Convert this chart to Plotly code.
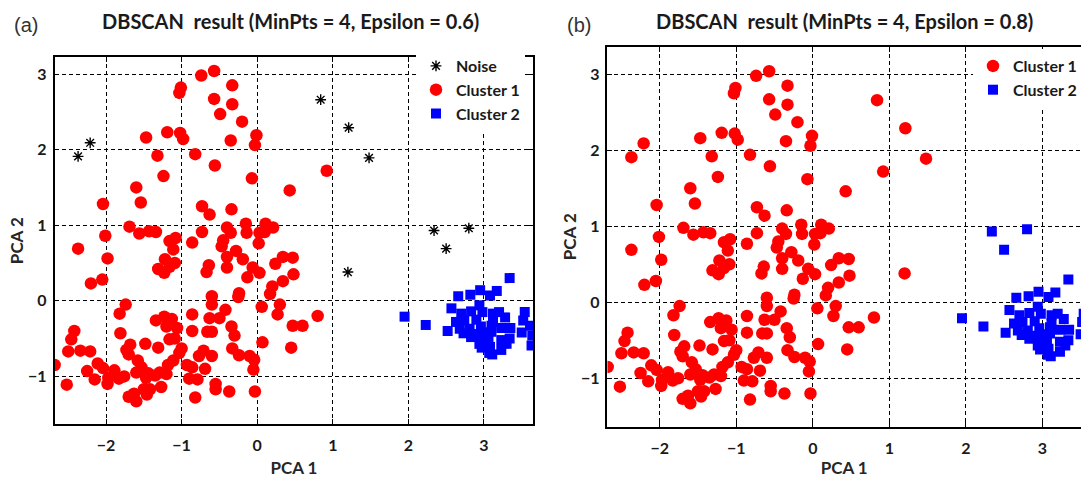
import plotly.graph_objects as go

# ---------------- data (PCA coordinates) ----------------
cluster1_x = [-0.74, -0.57, -1.01, -1.03, -1.47, -1.19, -1.02, -0.98, -1.32, -0.82,
              -1.24, -0.33, -0.57, -0.33, -0.49, -0.20, -0.01, -0.35, -0.03, -0.56,
              0.92, -0.07, 0.43, -1.60, -2.04, -1.54, -0.73, -1.69, -2.01, -1.56,
              -1.43, -1.34, -2.37, -1.16, -1.08, -1.11, -0.86, -0.73, -1.98, -1.22,
              -1.09, -1.16, -1.31, -1.23, -2.05, -2.20, -0.63, -0.34, -0.40, -0.15,
              0.11, 0.21, -0.35, -0.14, 0.03, 0.10, -0.45, -0.47, -0.28, 0.02,
              -0.40, -0.19, 0.34, 0.47, -0.64, -0.67, -0.40, -0.06, 0.03, 0.24,
              -0.13, 0.34, 0.48, 0.20, 0.17, -0.24, -0.25, -0.60, -0.60, -0.86,
              -0.42, 0.06, 0.30, 0.27, 0.80, -0.63, -0.50, 0.47, 0.60, -0.34,
              -0.30, -0.86, -0.66, -0.60, 0.07, 0.45, -0.33, -0.24, -0.71, -0.77,
              -0.60, -0.10, -0.04, -0.86, -0.69, -0.05, -0.90, -0.79, -0.55, -0.55,
              -0.37, -0.03, -0.82, -1.74, -1.82, -1.34, -1.23, -1.13, -1.20, -1.06,
              -2.42, -2.46, -1.81, -1.16, -1.09, -1.48, -1.68, -1.31, -2.50, -2.34,
              -2.21, -1.73, -1.70, -1.00, -1.03, -2.68, -2.11, -2.04, -1.58, -1.53,
              -1.11, -1.18, -0.93, -2.25, -1.89, -1.60, -1.44, -1.29, -1.20, -2.15,
              -1.97, -1.83, -1.76, -1.47, -1.35, -2.52, -1.98, -1.27, -1.50, -1.42,
              -1.63, -1.70, -1.46, -1.60]
cluster1_y = [2.98, 3.04, 2.82, 2.75, 2.16, 2.23, 2.22, 2.14, 1.92, 1.94,
              1.65, 2.85, 2.67, 2.60, 2.47, 2.37, 2.19, 2.12, 2.06, 1.79,
              1.72, 1.62, 1.46, 1.50, 1.28, 1.30, 1.25, 0.98, 0.86, 0.89,
              0.92, 0.91, 0.69, 0.79, 0.83, 0.68, 0.77, 0.91, 0.56, 0.55,
              0.50, 0.45, 0.42, 0.37, 0.28, 0.23, 1.14, 1.21, 0.97, 1.02,
              1.02, 0.97, 0.90, 0.90, 0.90, 0.91, 0.80, 0.72, 0.66, 0.76,
              0.58, 0.55, 0.58, 0.57, 0.47, 0.38, 0.44, 0.44, 0.37, 0.49,
              0.31, 0.26, 0.35, 0.19, 0.09, 0.10, 0.05, 0.06, -0.05, -0.18,
              -0.12, -0.08, -0.05, -0.18, -0.20, -0.23, -0.23, -0.33, -0.33, -0.34,
              -0.46, -0.40, -0.41, -0.41, -0.55, -0.62, -0.63, -0.72, -0.66, -0.73,
              -0.73, -0.73, -0.78, -0.88, -0.90, -0.91, -1.03, -1.04, -1.10, -1.17,
              -1.20, -1.20, -1.28, -0.05, -0.17, -0.26, -0.21, -0.24, -0.34, -0.36,
              -0.40, -0.51, -0.43, -0.51, -0.50, -0.57, -0.58, -0.62, -0.67, -0.66,
              -0.67, -0.65, -0.71, -0.63, -0.69, -0.85, -0.83, -0.89, -0.79, -0.88,
              -0.79, -0.85, -0.85, -0.93, -0.92, -0.95, -0.96, -0.95, -0.97, -1.04,
              -1.02, -1.03, -1.00, -1.02, -0.99, -1.11, -1.10, -1.14, -1.17, -1.17,
              -1.23, -1.27, -1.24, -1.33]

noise_x = [-2.37, -2.21, 0.84, 1.21, 1.48, 1.20, 2.34, 2.80, 2.50]
noise_y = [1.91, 2.09, 2.66, 2.29, 1.89, 0.38, 0.93, 0.96, 0.69]
# with Epsilon = 0.8 the first six noise points join cluster 1, the last three join cluster 2
noise_to_c1 = 6

cluster2_x = [3.34, 2.66, 2.82, 2.95, 3.08, 3.17, 1.95, 2.23, 2.57, 2.94,
              2.70, 2.83, 2.98, 3.12, 3.20, 3.28, 3.54, 2.63, 2.74, 2.90,
              3.12, 3.52, 2.52, 2.68, 2.81, 2.96, 3.10, 3.23, 3.35, 3.61,
              2.73, 2.88, 3.00, 3.10, 3.50, 3.64, 2.83, 2.96, 3.06, 3.23,
              3.34, 2.94, 3.08, 3.30, 3.63, 2.97, 3.23, 3.07, 3.11]
cluster2_y = [0.30, 0.06, 0.08, 0.14, 0.07, 0.13, -0.21, -0.32, -0.10, -0.06,
              -0.17, -0.14, -0.15, -0.17, -0.15, -0.22, -0.15, -0.28, -0.26, -0.25,
              -0.28, -0.26, -0.40, -0.37, -0.37, -0.34, -0.33, -0.36, -0.36, -0.33,
              -0.43, -0.44, -0.42, -0.41, -0.42, -0.46, -0.48, -0.48, -0.52, -0.52,
              -0.50, -0.57, -0.61, -0.57, -0.59, -0.62, -0.65, -0.69, -0.71]

x_ticks = [-2, -1, 0, 1, 2, 3]
y_ticks = [-1, 0, 1, 2, 3]

titles = ["DBSCAN  result (MinPts = 4, Epsilon = 0.6)",
          "DBSCAN  result (MinPts = 4, Epsilon = 0.8)"]
panel_labels = ["(a)", "(b)"]
axis_titles = ["PCA 1", "PCA 2"]

# ---------------- styling ----------------
FONT = "Lato, 'Open Sans', sans-serif"
TXT = "#1a1a1a"
RED = "#ff0000"
BLUE = "#0000ff"

fig = go.Figure()

# panel (a)
fig.add_trace(go.Scatter(x=noise_x, y=noise_y, mode="markers", name="Noise",
                         marker=dict(symbol="asterisk-open", size=9, color="black",
                                     line=dict(color="black", width=1.4)),
                         xaxis="x", yaxis="y", legend="legend", legendgroup="a0"))
fig.add_trace(go.Scatter(x=cluster1_x, y=cluster1_y, mode="markers", name="Cluster 1",
                         marker=dict(symbol="circle", size=12.5, color=RED, line=dict(width=0)),
                         xaxis="x", yaxis="y", legend="legend", legendgroup="a1"))
fig.add_trace(go.Scatter(x=cluster2_x, y=cluster2_y, mode="markers", name="Cluster 2",
                         marker=dict(symbol="square", size=10, color=BLUE, line=dict(width=0)),
                         xaxis="x", yaxis="y", legend="legend", legendgroup="a2"))

# panel (b)
c1b_x = cluster1_x + noise_x[:noise_to_c1]
c1b_y = cluster1_y + noise_y[:noise_to_c1]
c2b_x = cluster2_x + noise_x[noise_to_c1:]
c2b_y = cluster2_y + noise_y[noise_to_c1:]
fig.add_trace(go.Scatter(x=c1b_x, y=c1b_y, mode="markers", name="Cluster 1",
                         marker=dict(symbol="circle", size=12.5, color=RED, line=dict(width=0)),
                         xaxis="x2", yaxis="y2", legend="legend2", legendgroup="b1"))
fig.add_trace(go.Scatter(x=c2b_x, y=c2b_y, mode="markers", name="Cluster 2",
                         marker=dict(symbol="square", size=10, color=BLUE, line=dict(width=0)),
                         xaxis="x2", yaxis="y2", legend="legend2", legendgroup="b2"))

W, H = 1082, 478

def ax(domain, rng, anchor, ticks, title, mirror="ticks", standoff=6, lstand=0):
    return dict(domain=domain, range=rng, anchor=anchor, tickvals=ticks,
                showline=True, linecolor="black", linewidth=1.6, mirror=mirror,
                ticks="inside", ticklen=5, tickwidth=1, tickcolor="black",
                showgrid=True, gridcolor="black", gridwidth=1, griddash="4px,3px",
                zeroline=False, automargin=False, ticklabelstandoff=lstand,
                tickfont=dict(family=FONT, size=16, color=TXT, weight="bold"),
                title=dict(text=title, standoff=standoff,
                           font=dict(family=FONT, size=17, color="#262626", weight="bold")))

fig.update_layout(
    width=W, height=H,
    margin=dict(l=0, r=0, t=0, b=0),
    paper_bgcolor="white", plot_bgcolor="white",
    xaxis=ax([54.7 / W, 533.7 / W], [-2.68, 3.652], "y", x_ticks, axis_titles[0],
             standoff=9, lstand=6),
    yaxis=ax([1 - 424 / H, 1 - 57.3 / H], [-1.630, 3.221], "x", y_ticks, axis_titles[1],
             standoff=0, lstand=3),
    xaxis2=ax([608 / W, 1.0], [-2.683, 3.505], "y2", x_ticks, axis_titles[0],
              standoff=9, lstand=6),
    yaxis2=ax([1 - 426.7 / H, 1 - 46.7 / H], [-1.637, 3.363], "x2", y_ticks, axis_titles[1],
              mirror=False, standoff=0, lstand=3),
    legend=dict(x=416 / W, y=1 - 49 / H, xanchor="left", yanchor="top",
                bgcolor="white", borderwidth=0, tracegroupgap=0,
                font=dict(family=FONT, size=16, color=TXT, weight="bold")),
    legend2=dict(x=974 / W, y=1 - 49 / H, xanchor="left", yanchor="top",
                 bgcolor="white", borderwidth=0, tracegroupgap=0,
                 font=dict(family=FONT, size=16, color=TXT, weight="bold")),
    showlegend=True,
)

fig.add_annotation(x=12 / W, y=1 - 25 / H, xref="paper", yref="paper", text=panel_labels[0],
                   showarrow=False, xanchor="left", yanchor="middle",
                   font=dict(family="Liberation Sans, Arial, sans-serif", size=20, color="#333333"))
fig.add_annotation(x=566 / W, y=1 - 25 / H, xref="paper", yref="paper", text=panel_labels[1],
                   showarrow=False, xanchor="left", yanchor="middle",
                   font=dict(family="Liberation Sans, Arial, sans-serif", size=20, color="#333333"))
fig.add_annotation(x=291 / W, y=1 - 21 / H, xref="paper", yref="paper", text=titles[0],
                   showarrow=False, xanchor="center", yanchor="middle",
                   font=dict(family=FONT, size=20, color=TXT, weight="bold"))
fig.add_annotation(x=845 / W, y=1 - 21 / H, xref="paper", yref="paper", text=titles[1],
                   showarrow=False, xanchor="center", yanchor="middle",
                   font=dict(family=FONT, size=20, color=TXT, weight="bold"))

# remove the browser's default 8px page margin so the figure fills the window exactly
fig.write_html("out.html", config={"displayModeBar": False},
               post_script="document.body.style.margin='0';")
